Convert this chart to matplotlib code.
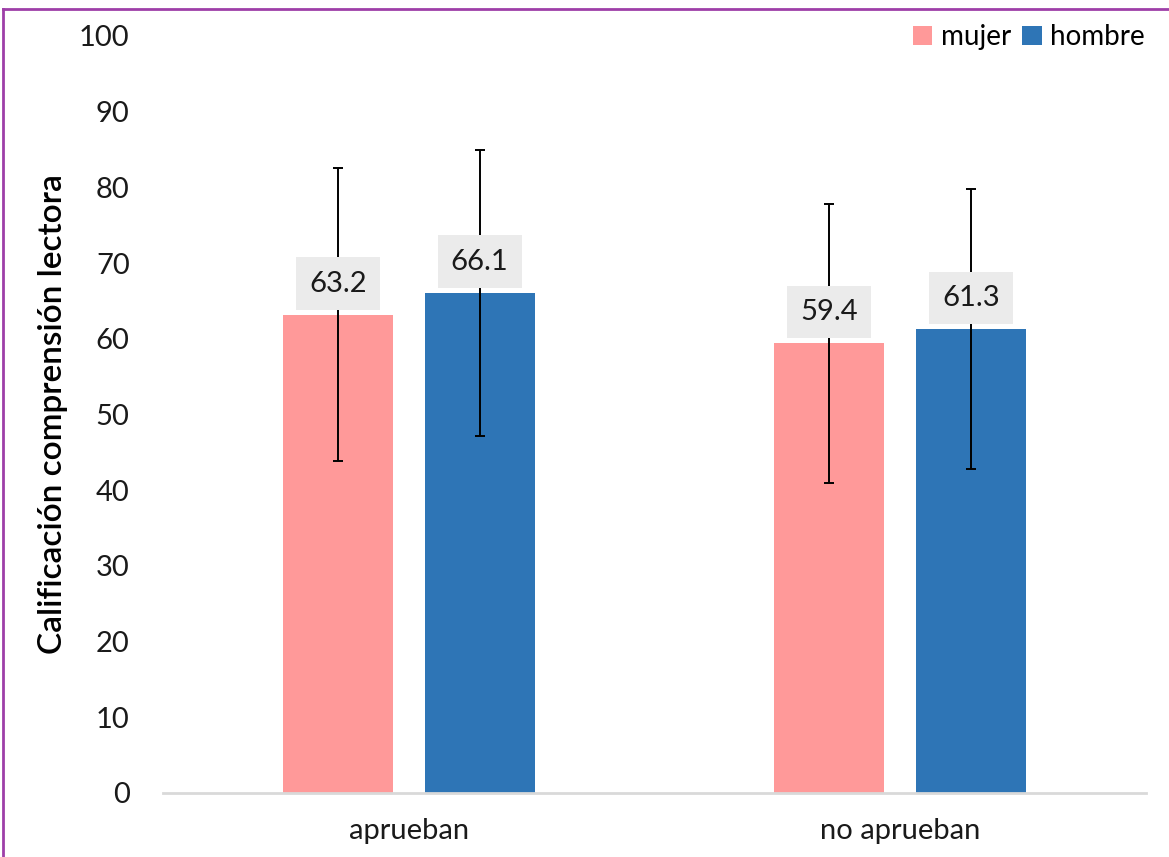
import numpy as np
import matplotlib.pyplot as plt
from matplotlib.lines import Line2D

# datos
grupos = ["aprueban", "no aprueban"]
series = ["mujer", "hombre"]
media_mujer = [63.2, 59.4]
media_hombre = [66.1, 61.3]
de_mujer = [19.3, 18.4]
de_hombre = [18.9, 18.5]
etiquetas_y = [0, 10, 20, 30, 40, 50, 60, 70, 80, 90, 100]

col_mujer = "#FF9999"
col_hombre = "#2E75B6"

plt.rcParams['font.family'] = ['Lato', 'DejaVu Sans']

fig = plt.figure(figsize=(11.69, 8.57), dpi=100)
ax = fig.add_axes([0.1394, 0.0747, 0.8409, 0.8833])

x = np.arange(len(grupos))
ancho = 0.224
desp = 0.1445

for medias, des, col, nombre, signo in [(media_mujer, de_mujer, col_mujer, "mujer", -1),
                                        (media_hombre, de_hombre, col_hombre, "hombre", 1)]:
    pos = x + signo * desp
    ax.bar(pos, medias, width=ancho, color=col, label=nombre, zorder=2)
    ax.errorbar(pos, medias, yerr=des, fmt="none", ecolor="black",
                elinewidth=1.4, capsize=3.5, capthick=1.4, zorder=3)
    for p, m in zip(pos, medias):
        ax.annotate(f"{m:.1f}", xy=(p, m), xytext=(0, 13), textcoords="offset points",
                    ha="center", va="bottom", fontsize=21, color="#1a1a1a", zorder=5,
                    bbox=dict(boxstyle="square,pad=0.45", fc="#EBEBEB", ec="none"))

ax.set_xlim(-0.5, 1.5)
ax.set_ylim(0, 100)
ax.set_yticks(etiquetas_y)
ax.set_xticks(x)
ax.set_xticklabels(grupos, fontsize=21, color="#1a1a1a")
ax.tick_params(axis="y", labelsize=21, length=0, pad=24, labelcolor="#1a1a1a")
ax.tick_params(axis="x", length=0, pad=18)
for lado in ["top", "right", "left"]:
    ax.spines[lado].set_visible(False)
ax.spines["bottom"].set_color("#D9D9D9")
ax.spines["bottom"].set_linewidth(2)

ax.set_ylabel("Calificación comprensión lectora", fontsize=24, fontweight="semibold",
              labelpad=8, color="black")

ax.legend(loc="upper right", bbox_to_anchor=(1.01, 1.03), frameon=False, fontsize=20,
          ncol=2, handlelength=0.7, handleheight=0.7, handletextpad=0.3,
          columnspacing=0.4, borderaxespad=0)

# marco morado (solo se ve arriba e izquierda)
fig.add_artist(Line2D([0.0026, 1.0], [0.9895, 0.9895], color="#9E3FA8", lw=2,
                      transform=fig.transFigure))
fig.add_artist(Line2D([0.0026, 0.0026], [0.0, 0.9895], color="#9E3FA8", lw=2,
                      transform=fig.transFigure))

fig.savefig("out.png", dpi=100)
